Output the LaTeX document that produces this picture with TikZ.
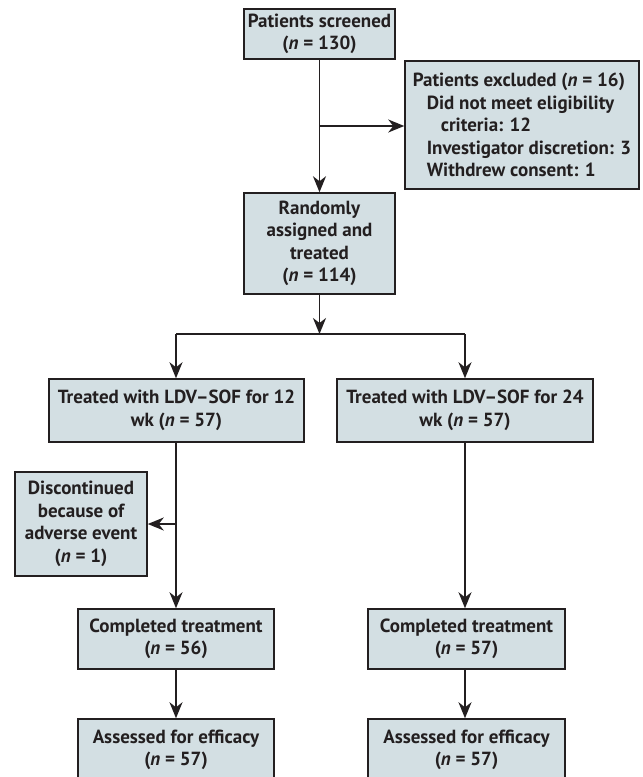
\documentclass[tikz,border=0pt]{standalone}
\usepackage{fontspec}
\setmainfont{PT Sans}
\usetikzlibrary{arrows.meta}
\definecolor{boxfill}{RGB}{211,223,227}
\definecolor{ink}{RGB}{35,31,32}
\begin{document}
\begin{tikzpicture}[x=1pt,y=-1pt,
 box/.style={draw=ink, line width=1.5pt, fill=boxfill, align=center,
   font=\fontsize{19}{22.5}\selectfont\bfseries, inner sep=0pt, text=ink},
 arr/.style={draw=ink, line width=1.6pt, -{Stealth[length=16pt,width=13pt,inset=5pt]}},
 ln/.style={draw=ink, line width=1.6pt}]
\useasboundingbox (0,0) rectangle (643,777);
\clip (0,0) rectangle (643,777);
\fill[white] (0,0) rectangle (643,777);

\node[box, minimum width=151pt, minimum height=50pt] (scr) at (319.5,34)
  {Patients screened\\(\textit{n} = 130)};
\node[box, minimum width=234pt, minimum height=128pt, align=left] (exc) at (522,125)
  {Patients excluded (\textit{n} = 16)\\
   \hspace*{14pt}Did not meet eligibility\\
   \hspace*{28pt}criteria: 12\\
   \hspace*{14pt}Investigator discretion: 3\\
   \hspace*{14pt}Withdrew consent: 1};
\node[box, minimum width=151pt, minimum height=101pt] (rnd) at (319.5,243.5)
  {Randomly\\assigned and\\treated\\(\textit{n} = 114)};
\node[box, minimum width=255pt, minimum height=63pt] (t12) at (176.5,410.5)
  {Treated with LDV--SOF for 12\\wk (\textit{n} = 57)};
\node[box, minimum width=256pt, minimum height=63pt] (t24) at (465,410.5)
  {Treated with LDV--SOF for 24\\wk (\textit{n} = 57)};
\node[box, minimum width=132pt, minimum height=104pt] (disc) at (81,524)
  {Discontinued\\because of\\adverse event\\(\textit{n} = 1)};
\node[box, minimum width=196pt, minimum height=60pt] (c12) at (176,639)
  {Completed treatment\\(\textit{n} = 56)};
\node[box, minimum width=197pt, minimum height=60pt] (c24) at (466.5,639)
  {Completed treatment\\(\textit{n} = 57)};
\node[box, minimum width=196pt, minimum height=80pt] (a12) at (176,759)
  {Assessed for efficacy\\(\textit{n} = 57)\\\mbox{}};
\node[box, minimum width=197pt, minimum height=80pt] (a24) at (466.5,759)
  {Assessed for efficacy\\(\textit{n} = 57)\\\mbox{}};

\coordinate (ej) at (319.5,126);
\coordinate (sp) at (319.5,334);
\coordinate (spl) at (176,334);
\coordinate (spr) at (465,334);
\coordinate (dj) at (176,524);

\draw[arr] (scr.south) -- (rnd.north);
\draw[arr] (ej) -- (ej -| exc.west);
\draw[arr] (rnd.south) -- (sp);
\draw[ln] (spl) -- (spr);
\draw[arr] (spl) -- (spl |- t12.north);
\draw[arr] (spr) -- (spr |- t24.north);
\draw[arr] (t12.south -| spl) -- (c12.north -| spl);
\draw[arr] (dj) -- (disc.east);
\draw[arr] (t24.south -| spr) -- (c24.north -| spr);
\draw[arr] (c12.south) -- (a12.north);
\draw[arr] (c24.south -| spr) -- (a24.north -| spr);
\end{tikzpicture}
\end{document}
